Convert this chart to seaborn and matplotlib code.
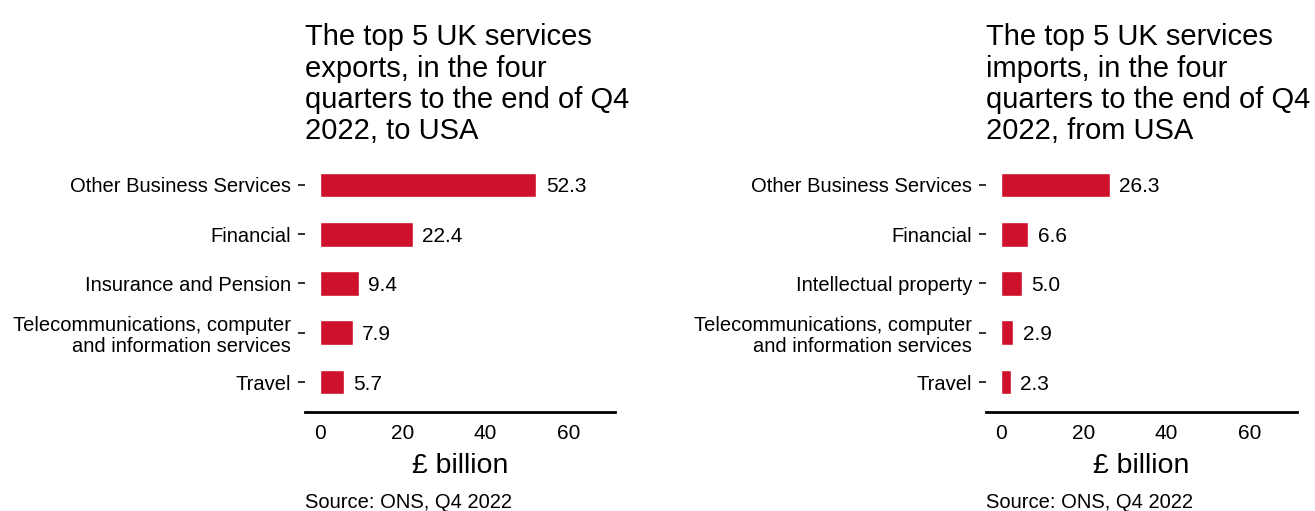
import numpy as np
import pandas as pd
import matplotlib
matplotlib.use("Agg")
import matplotlib.pyplot as plt
import seaborn as sns

# data
export_cats = ["Other Business Services", "Financial", "Insurance and Pension",
               "Telecommunications, computer\nand information services", "Travel"]
export_vals = [52.3, 22.4, 9.4, 7.9, 5.7]
import_cats = ["Other Business Services", "Financial", "Intellectual property",
               "Telecommunications, computer\nand information services", "Travel"]
import_vals = [26.3, 6.6, 5.0, 2.9, 2.3]
titles = ["The top 5 UK services\nexports, in the four\nquarters to the end of Q4\n2022, to USA",
          "The top 5 UK services\nimports, in the four\nquarters to the end of Q4\n2022, from USA"]
x_ticks = [0, 20, 40, 60]
source = "Source: ONS, Q4 2022"

BAR_COLOR = "#D0112B"

sns.set_theme(style="white")
plt.rcParams['font.family'] = ['Liberation Sans', 'DejaVu Sans']

fig = plt.figure(figsize=(13.15, 5.11), dpi=100)
ax_left = fig.add_axes([0.232, 0.1945, 0.236, 0.5015])
ax_right = fig.add_axes([0.750, 0.1945, 0.236, 0.5015])

panels = [(ax_left, export_cats, export_vals, titles[0]),
          (ax_right, import_cats, import_vals, titles[1])]

for ax, cats, vals, title in panels:
    df = pd.DataFrame({"category": cats, "value": vals})
    sns.barplot(data=df, x="value", y="category", orient="h", color=BAR_COLOR,
                width=0.5, saturation=1, ax=ax)
    # value labels at bar ends
    for i, v in enumerate(vals):
        ax.text(v + 2.3, i, f"{v:.1f}", va="center_baseline", ha="left", fontsize=15, color="black")
    ax.set_xlim(-3.6, 71.4)
    ax.set_ylim(4.6, -0.6)
    ax.set_xticks(x_ticks)
    ax.set_xlabel("£ billion", fontsize=20.5, color="black", labelpad=7)
    ax.set_ylabel("")
    ax.tick_params(axis="x", length=5, width=1.3, color="black", labelsize=15, labelcolor="black", pad=4)
    ax.tick_params(axis="y", length=5, width=1.3, color="#222222", labelsize=14.5, labelcolor="black", pad=5, left=True)
    for lbl in ax.get_yticklabels():
        lbl.set_horizontalalignment("right")
        lbl.set_multialignment("right")
        lbl.set_linespacing(1.15)
    for s in ["top", "right", "left"]:
        ax.spines[s].set_visible(False)
    ax.spines["bottom"].set_linewidth(2)
    ax.spines["bottom"].set_color("black")
    ax.set_title(title, loc="left", fontsize=21, color="black", pad=12, linespacing=1.14)
    ax.text(0, -0.355, source, transform=ax.transAxes, ha="left", va="center", fontsize=14.5, color="black")

fig.savefig("out.png", dpi=100)
